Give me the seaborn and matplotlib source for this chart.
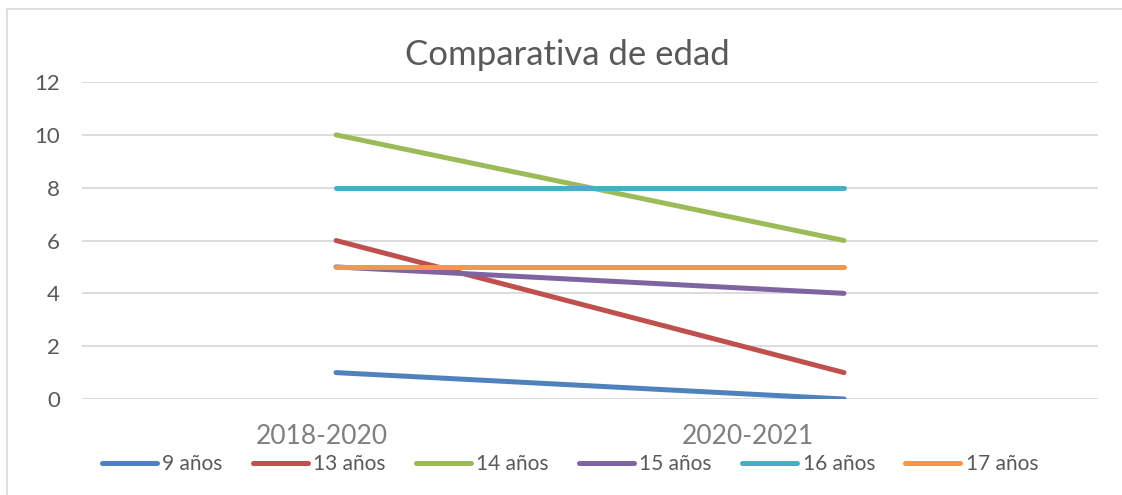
import pandas as pd
import matplotlib
matplotlib.use("Agg")
import matplotlib.pyplot as plt
from matplotlib.patches import Rectangle
from matplotlib.lines import Line2D
import seaborn as sns

periodos = ["2018-2020", "2020-2021"]
series = ["9 años", "13 años", "14 años", "15 años", "16 años", "17 años"]
v9 = [1, 0]
v13 = [6, 1]
v14 = [10, 6]
v15 = [5, 4]
v16 = [8, 8]
v17 = [5, 5]
colores = ["#4F81BD", "#C0504D", "#9BBB59", "#8064A2", "#4BACC6", "#F79646"]

valores = [v9, v13, v14, v15, v16, v17]
rows = []
for nombre, vals in zip(series, valores):
    for p, v in zip(periodos, vals):
        rows.append({"periodo": p, "edad": nombre, "valor": v})
df = pd.DataFrame(rows)

sns.set_theme(style="white")
plt.rcParams["font.family"] = ["Lato", "DejaVu Sans"]

fig = plt.figure(figsize=(11.22, 4.95), dpi=100)
ax = fig.add_axes([0.0731, 0.1939, 0.9055, 0.6404])

# marco del gráfico
fig.patches.append(Rectangle((0.0062, -0.1), 1.2, 1.082, transform=fig.transFigure,
                             fill=False, edgecolor="#D9D9D9", linewidth=1.2))

for y in range(0, 13, 2):
    ax.axhline(y, color="#D9D9D9", linewidth=1.3, zorder=0)

sns.lineplot(data=df, x="periodo", y="valor", hue="edad", hue_order=series,
             palette=colores, linewidth=3.6, ax=ax, legend=False,
             solid_capstyle="round")

ax.set_xlim(-0.5, 1.5)
ax.set_ylim(0, 12)
ax.set_yticks(range(0, 13, 2))
# las etiquetas de categoría del original quedan algo desplazadas a la izquierda
ax.set_xticks([-0.028, 0.81], periodos)
ax.set_xlabel("")
ax.set_ylabel("")
for s in ax.spines.values():
    s.set_visible(False)
ax.tick_params(axis="y", labelsize=16, labelcolor="#595959", length=0, pad=16)
ax.tick_params(axis="x", labelsize=19, labelcolor="#7F7F7F", length=0, pad=18)

fig.text(0.506, 0.888, "Comparativa de edad", ha="center", va="center",
         fontsize=25, color="#595959")

proxies = [Line2D([0], [0], color=c, linewidth=3.6, solid_capstyle="round") for c in colores]
fig.legend(proxies, series, loc="center", bbox_to_anchor=(0.508, 0.062), ncol=6,
           frameon=False, fontsize=15, labelcolor="#595959", handlelength=2.65,
           handletextpad=0.25, columnspacing=1.45)

fig.savefig("out.png", dpi=100)
